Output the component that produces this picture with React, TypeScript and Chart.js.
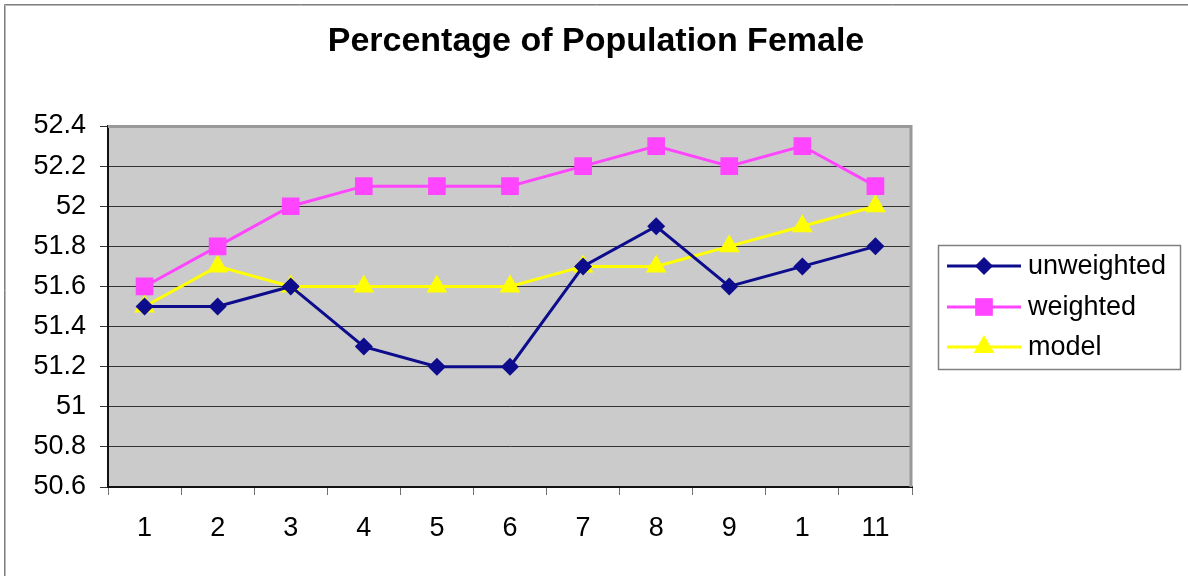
import { useEffect, useRef } from 'react';
import { Chart, registerables } from 'chart.js';

Chart.register(...registerables);

const TITLE = 'Percentage of Population Female';
const categories = ['1', '2', '3', '4', '5', '6', '7', '8', '9', '1', '11'];
const unweighted = [51.5, 51.5, 51.6, 51.3, 51.2, 51.2, 51.7, 51.9, 51.6, 51.7, 51.8];
const weighted = [51.6, 51.8, 52.0, 52.1, 52.1, 52.1, 52.2, 52.3, 52.2, 52.3, 52.1];
const model = [51.5, 51.7, 51.6, 51.6, 51.6, 51.6, 51.7, 51.7, 51.8, 51.9, 52.0];
const yTicks = [50.6, 50.8, 51.0, 51.2, 51.4, 51.6, 51.8, 52.0, 52.2, 52.4];

const FONT = '"Liberation Sans", Arial, sans-serif';

function drawMarker(ctx: CanvasRenderingContext2D, style: string, x: number, y: number, r: number, color: string) {
  ctx.save();
  ctx.fillStyle = color;
  ctx.beginPath();
  if (style === 'rectRot') {
    ctx.moveTo(x, y - r);
    ctx.lineTo(x + r, y);
    ctx.lineTo(x, y + r);
    ctx.lineTo(x - r, y);
  } else if (style === 'rect') {
    const s = r * Math.SQRT1_2;
    ctx.rect(x - s, y - s, 2 * s, 2 * s);
  } else {
    ctx.moveTo(x, y - r);
    ctx.lineTo(x + r * Math.sin(Math.PI * 2 / 3), y + r * 0.5);
    ctx.lineTo(x - r * Math.sin(Math.PI * 2 / 3), y + r * 0.5);
  }
  ctx.closePath();
  ctx.fill();
  ctx.restore();
}

const decorPlugin = {
  id: 'decor',
  beforeDraw(chart: any) {
    const { ctx, chartArea: a } = chart;
    ctx.save();
    ctx.fillStyle = '#fff';
    ctx.fillRect(0, 0, chart.width, chart.height);
    // outer frame
    ctx.strokeStyle = '#808080';
    ctx.lineWidth = 1;
    ctx.beginPath();
    ctx.moveTo(4.5, chart.height);
    ctx.lineTo(4.5, 4.5);
    ctx.lineTo(chart.width, 4.5);
    ctx.stroke();
    ctx.strokeStyle = '#b8b8b8';
    ctx.beginPath();
    ctx.moveTo(5.5, chart.height);
    ctx.lineTo(5.5, 5.5);
    ctx.lineTo(chart.width, 5.5);
    ctx.stroke();
    // plot background
    ctx.fillStyle = '#CBCBCB';
    ctx.fillRect(a.left, a.top, a.right - a.left, a.bottom - a.top);
    ctx.restore();
  },
  beforeDatasetsDraw(chart: any) {
    const { ctx, chartArea: a } = chart;
    ctx.save();
    ctx.strokeStyle = '#999999';
    ctx.lineWidth = 3;
    ctx.beginPath();
    ctx.moveTo(a.left, a.top + 0.5);
    ctx.lineTo(a.right - 1, a.top + 0.5);
    ctx.lineTo(a.right - 1, a.bottom);
    ctx.stroke();
    ctx.restore();
  },
  afterDraw(chart: any) {
    const { ctx } = chart;
    ctx.save();
    // title
    ctx.fillStyle = '#000';
    ctx.font = `bold 34px ${FONT}`;
    ctx.textAlign = 'center';
    ctx.textBaseline = 'alphabetic';
    ctx.fillText(TITLE, 596, 51);
    // legend
    const bx = 938.5, by = 245.5, bw = 242, bh = 124;
    ctx.fillStyle = '#fff';
    ctx.fillRect(bx, by, bw, bh);
    ctx.strokeStyle = '#808080';
    ctx.lineWidth = 1.5;
    ctx.strokeRect(bx, by, bw, bh);
    const rows = [266, 307, 347];
    chart.data.datasets.forEach((ds: any, i: number) => {
      const y = rows[i];
      ctx.strokeStyle = ds.borderColor;
      ctx.lineWidth = 3;
      ctx.beginPath();
      ctx.moveTo(947, y);
      ctx.lineTo(1021, y);
      ctx.stroke();
      drawMarker(ctx, ds.pointStyle, 984, y, ds.pointRadius, ds.backgroundColor);
      ctx.fillStyle = '#000';
      ctx.font = `27px ${FONT}`;
      ctx.textAlign = 'left';
      ctx.textBaseline = 'middle';
      ctx.fillText(ds.label, 1028, y + 1);
    });
    ctx.restore();
  },
};

export default function App() {
  const ref = useRef<HTMLCanvasElement>(null);
  useEffect(() => {
    document.body.style.margin = '0';
    const chart = new Chart(ref.current!, {
      type: 'line',
      data: {
        labels: categories,
        datasets: [
          {
            label: 'unweighted',
            data: unweighted,
            borderColor: '#0C0C8C',
            backgroundColor: '#0C0C8C',
            borderWidth: 3,
            pointStyle: 'rectRot',
            pointRadius: 9,
            pointHoverRadius: 9,
            pointBorderWidth: 0,
            tension: 0,
          },
          {
            label: 'weighted',
            data: weighted,
            borderColor: '#FF45FF',
            backgroundColor: '#FF45FF',
            borderWidth: 3,
            pointStyle: 'rect',
            pointRadius: 12.5,
            pointHoverRadius: 12.5,
            pointBorderWidth: 0,
            tension: 0,
          },
          {
            label: 'model',
            data: model,
            borderColor: '#FFFF00',
            backgroundColor: '#FFFF00',
            borderWidth: 3,
            pointStyle: 'triangle',
            pointRadius: 12,
            pointHoverRadius: 12,
            pointBorderWidth: 0,
            tension: 0,
          },
        ],
      },
      options: {
        responsive: false,
        animation: false,
        layout: { padding: { left: 0, top: 126, right: 276, bottom: 0 } },
        plugins: {
          legend: { display: false },
          title: { display: false },
          tooltip: { enabled: false },
        },
        scales: {
          x: {
            type: 'category',
            offset: true,
            afterFit: (s: any) => { s.height = 89; },
            grid: {
              offset: true,
              drawOnChartArea: false,
              drawTicks: true,
              tickLength: 8,
              color: '#707070',
              lineWidth: 1,
            },
            border: { display: true, color: '#111', width: 2 },
            ticks: {
              color: '#000',
              font: { family: FONT, size: 27 },
              padding: 17,
              maxRotation: 0,
              autoSkip: false,
            },
          },
          y: {
            min: 50.6,
            max: 52.4,
            afterFit: (s: any) => { s.width = 108; },
            afterBuildTicks: (s: any) => { s.ticks = yTicks.map((v) => ({ value: v })); },
            grid: {
              color: '#333',
              lineWidth: 1,
              drawTicks: true,
              tickLength: 8,
            },
            border: { display: true, color: '#111', width: 2 },
            ticks: {
              color: '#000',
              font: { family: FONT, size: 27 },
              padding: 14,
              callback: (v: any) => String(Number(Number(v).toFixed(1))),
            },
          },
        },
      },
      plugins: [decorPlugin],
    });
    return () => chart.destroy();
  }, []);
  return (
    <canvas
      ref={ref}
      width={1188}
      height={576}
      style={{ display: 'block', position: 'absolute', left: 0, top: 0 }}
    />
  );
}
